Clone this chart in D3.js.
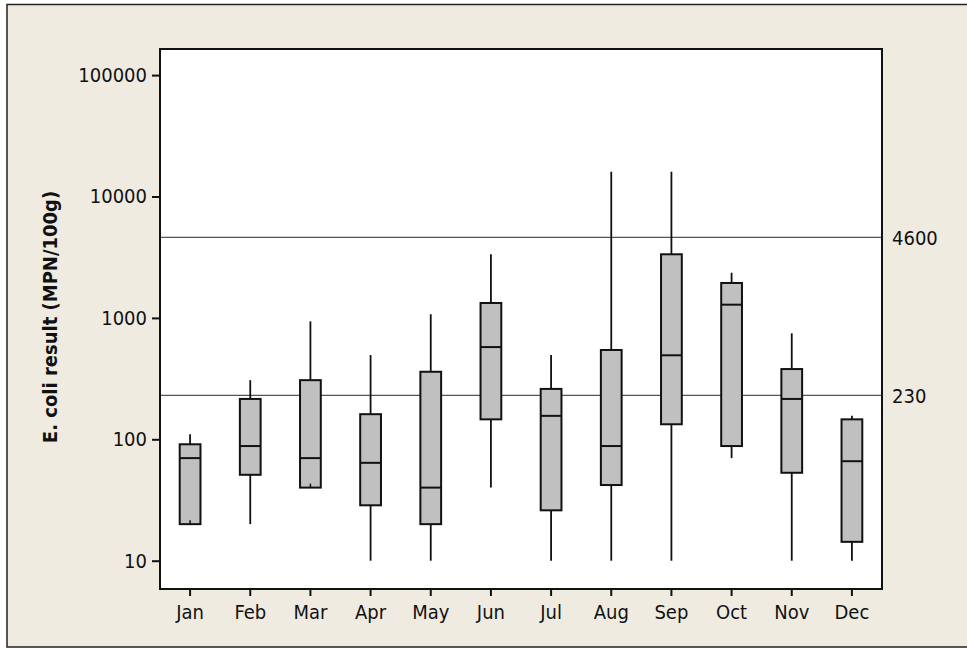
<!DOCTYPE html>
<html>
<head>
<meta charset="utf-8">
<script src="https://cdn.jsdelivr.net/npm/d3@7.9.0/dist/d3.min.js"></script>
<style>
  body { margin: 0; background: #fff; }
  svg { display: block; font-family: "DejaVu Sans Condensed", "DejaVu Sans", sans-serif; }
</style>
</head>
<body>
<svg id="chart" width="967" height="648"></svg>
<script>
// Monthly E. coli results (MPN/100g), box plot summaries
const months = ['Jan', 'Feb', 'Mar', 'Apr', 'May', 'Jun', 'Jul', 'Aug', 'Sep', 'Oct', 'Nov', 'Dec'];
const mins    = [20, 20, 40, 10, 10, 40, 10, 10, 10, 70, 10, 10];
const q1s     = [20, 51, 40, 28.6, 20, 146, 26, 42, 133, 88, 53, 14.3];
const medians = [70, 88, 70, 64, 40, 575, 156, 88, 492, 1285, 215, 66];
const q3s     = [91, 215, 307, 161, 360, 1327, 260, 544, 3342, 1939, 379, 146];
const maxs    = [110, 307, 937, 494, 1072, 3342, 494, 16000, 16000, 2355, 747, 156];

const yTicks = [10, 100, 1000, 10000, 100000];
const refLines = [4600, 230];

const svg = d3.select('#chart');
const plot = { left: 160, right: 882, top: 49, bottom: 589 };

// outer panel
svg.append('rect')
  .attr('x', 7).attr('y', 4.5)
  .attr('width', 970).attr('height', 642.5)
  .attr('fill', '#efebe1')
  .attr('stroke', '#222').attr('stroke-width', 1.5);

// plot area
svg.append('rect')
  .attr('x', plot.left).attr('y', plot.top)
  .attr('width', plot.right - plot.left).attr('height', plot.bottom - plot.top)
  .attr('fill', '#fff');

const x = d3.scaleBand().domain(months).range([plot.left, plot.right]).padding(0);
const y = d3.scaleLog().domain([10, 100000]).range([560.7, 75.1]);

// reference lines
refLines.forEach(v => {
  svg.append('line')
    .attr('x1', plot.left).attr('x2', plot.right)
    .attr('y1', y(v)).attr('y2', y(v))
    .attr('stroke', '#555').attr('stroke-width', 1.3);
  svg.append('text')
    .attr('x', plot.right + 10).attr('y', y(v))
    .attr('dy', '0.36em')
    .attr('font-size', 20)
    .attr('fill', '#111')
    .text(v);
});

// boxes
const data = months.map((m, i) => ({
  month: m, min: mins[i], q1: q1s[i], med: medians[i], q3: q3s[i], max: maxs[i]
}));
const boxW = x.bandwidth() * 0.345;
const g = svg.append('g');

data.forEach(d => {
  const cx = x(d.month) + x.bandwidth() / 2;
  // whiskers
  g.append('line')
    .attr('x1', cx).attr('x2', cx)
    .attr('y1', y(d.q3)).attr('y2', y(d.max))
    .attr('stroke', '#111').attr('stroke-width', 1.8);
  g.append('line')
    .attr('x1', cx).attr('x2', cx)
    .attr('y1', y(d.q1)).attr('y2', y(d.min))
    .attr('stroke', '#111').attr('stroke-width', 1.8);
  // box
  g.append('rect')
    .attr('x', cx - boxW / 2).attr('y', y(d.q3))
    .attr('width', boxW).attr('height', y(d.q1) - y(d.q3))
    .attr('fill', '#c0c0c0')
    .attr('stroke', '#111').attr('stroke-width', 2);
  // median
  g.append('line')
    .attr('x1', cx - boxW / 2).attr('x2', cx + boxW / 2)
    .attr('y1', y(d.med)).attr('y2', y(d.med))
    .attr('stroke', '#111').attr('stroke-width', 2);
  // small stubs where whisker length is zero
  if (d.min === d.q1) {
    g.append('line').attr('x1', cx).attr('x2', cx)
      .attr('y1', y(d.q1) - 4).attr('y2', y(d.q1))
      .attr('stroke', '#111').attr('stroke-width', 1.5);
  }
});

// plot border
svg.append('rect')
  .attr('x', plot.left).attr('y', plot.top)
  .attr('width', plot.right - plot.left).attr('height', plot.bottom - plot.top)
  .attr('fill', 'none')
  .attr('stroke', '#111').attr('stroke-width', 2);

// y axis
const yAxis = svg.append('g')
  .attr('transform', `translate(${plot.left},0)`)
  .call(d3.axisLeft(y).tickValues(yTicks).tickFormat(d3.format('d')).tickSize(8).tickPadding(5));
yAxis.select('.domain').remove();
yAxis.selectAll('.tick line').attr('stroke', '#111').attr('stroke-width', 2);
yAxis.selectAll('.tick text')
  .attr('font-size', 20).attr('fill', '#111')
  .attr('font-family', '"DejaVu Sans Condensed", "DejaVu Sans", sans-serif');

// x axis
const xAxis = svg.append('g')
  .attr('transform', `translate(0,${plot.bottom})`)
  .call(d3.axisBottom(x).tickSize(7).tickPadding(9));
xAxis.select('.domain').remove();
xAxis.selectAll('.tick line').attr('stroke', '#111').attr('stroke-width', 2);
xAxis.selectAll('.tick text')
  .attr('font-size', 20).attr('fill', '#111')
  .attr('font-family', '"DejaVu Sans Condensed", "DejaVu Sans", sans-serif');

// y axis title
svg.append('text')
  .attr('transform', `translate(56.5,${(plot.top + plot.bottom) / 2 - 2}) rotate(-90)`)
  .attr('text-anchor', 'middle')
  .attr('font-size', 20)
  .attr('font-weight', 'bold')
  .attr('fill', '#111')
  .text('E. coli result (MPN/100g)');
</script>
</body>
</html>
